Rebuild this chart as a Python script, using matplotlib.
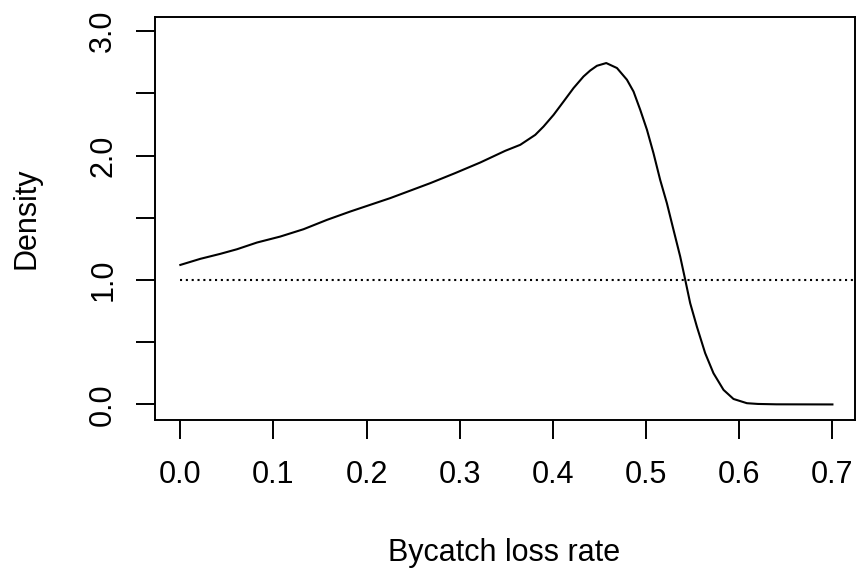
import matplotlib
matplotlib.use("Agg")
import matplotlib.pyplot as plt

# density curve
loss_rate = [0.000, 0.0215, 0.0429, 0.0608, 0.0823, 0.1073, 0.1323, 0.1574,
             0.1824, 0.2039, 0.2254, 0.2415, 0.2683, 0.2951, 0.3220, 0.3488,
             0.3649, 0.3810, 0.3899, 0.4007, 0.4114, 0.4221, 0.4328, 0.4400,
             0.4472, 0.4572, 0.4687, 0.4794, 0.4865, 0.4937, 0.5009, 0.5079,
             0.5151, 0.5223, 0.5294, 0.5366, 0.5420, 0.5473, 0.5545, 0.5634,
             0.5723, 0.5831, 0.5938, 0.6082, 0.6200, 0.6400, 0.7000]
density = [1.121, 1.170, 1.210, 1.247, 1.301, 1.349, 1.408, 1.483,
           1.550, 1.604, 1.658, 1.703, 1.778, 1.859, 1.944, 2.038,
           2.086, 2.166, 2.233, 2.327, 2.434, 2.542, 2.635, 2.683,
           2.721, 2.743, 2.703, 2.609, 2.514, 2.367, 2.207, 2.019,
           1.804, 1.617, 1.403, 1.188, 1.001, 0.814, 0.625, 0.412,
           0.251, 0.117, 0.044, 0.010, 0.004, 0.001, 0.000]

uniform_density = 1.0

x_ticks = [0.0, 0.1, 0.2, 0.3, 0.4, 0.5, 0.6, 0.7]
x_tick_labels = ["0.0", "0.1", "0.2", "0.3", "0.4", "0.5", "0.6", "0.7"]
y_ticks = [0.0, 0.5, 1.0, 1.5, 2.0, 2.5, 3.0]
y_tick_labels = ["0.0", "", "1.0", "", "2.0", "", "3.0"]

plt.rcParams["font.family"] = ["Liberation Sans", "DejaVu Sans"]

fig = plt.figure(figsize=(8.6, 5.74), dpi=100)
ax = fig.add_axes([155 / 860, 1 - 420 / 574, 699.5 / 860, 403.5 / 574])

ax.plot(loss_rate, density, color="black", lw=1.5, solid_joinstyle="round")
ax.set_xlim(-0.0272, 0.7237)
ax.set_ylim(-0.125, 3.117)
ax.hlines(uniform_density, loss_rate[0], ax.get_xlim()[1], colors="black",
          lw=1.5, linestyles=[(0, (1, 1.8))])

ax.set_xticks(x_ticks)
ax.set_xticklabels(x_tick_labels)
ax.set_yticks(y_ticks)
ax.set_yticklabels(y_tick_labels, rotation=90, va="center")

ax.tick_params(axis="x", direction="out", length=13.5, width=1.4,
               labelsize=22, pad=15)
ax.tick_params(axis="y", direction="out", length=13.5, width=1.4,
               labelsize=22, pad=13)
for sp in ax.spines.values():
    sp.set_linewidth(1.4)

fig.text(504.5 / 860, 1 - 553 / 574, "Bycatch loss rate", fontsize=22,
         ha="center", va="center")
fig.text(27 / 860, 1 - 218 / 574, "Density", fontsize=22, rotation=90,
         ha="center", va="center")

fig.savefig("out.png", dpi=100)
